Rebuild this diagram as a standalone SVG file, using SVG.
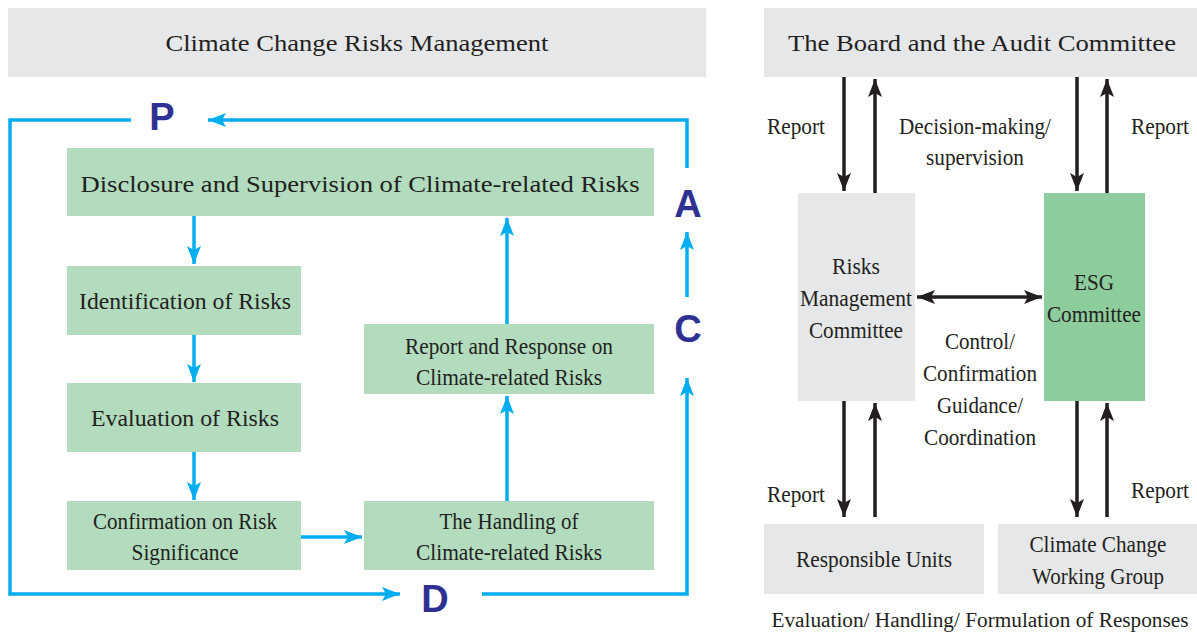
<svg xmlns="http://www.w3.org/2000/svg" width="1197" height="635" viewBox="0 0 1197 635" font-family="'Liberation Serif', 'Times New Roman', Times, serif">
<style>
text{font-family:'Liberation Serif','Times New Roman',Times,serif}
.t{fill:#231f20;text-anchor:middle;font-size:23px}
.h{font-size:24px}
.g{fill:#e6e7e8}
.gr{fill:#b2dcbd}
.esg{fill:#8dcc9c}
text.L{font-family:'Liberation Sans',Arial,Helvetica,sans-serif;font-weight:bold;fill:#2e3192;text-anchor:middle;font-size:38px}
.b{stroke:#00aeef;stroke-width:3.5;fill:none}
.k{stroke:#231f20;stroke-width:3.5;fill:none}
</style>
<defs>
<marker id="ab" markerUnits="userSpaceOnUse" markerWidth="20" markerHeight="16" viewBox="0 0 20 16" refX="18" refY="8" orient="auto"><path d="M0,1 L18,8 L0,15 L4,8 Z" fill="#00aeef"/></marker>
<marker id="ak" markerUnits="userSpaceOnUse" markerWidth="20" markerHeight="16" viewBox="0 0 20 16" refX="18" refY="8" orient="auto-start-reverse"><path d="M0,1 L18,8 L0,15 L4,8 Z" fill="#231f20"/></marker>
</defs>

<g id="header-left"><rect class="g" x="8" y="8" width="698" height="69"/><text class="t h" x="357" y="51" textLength="383" lengthAdjust="spacingAndGlyphs">Climate Change Risks Management</text></g>
<g id="header-right"><rect class="g" x="764" y="8" width="433" height="69"/><text class="t h" x="982" y="51" textLength="388" lengthAdjust="spacingAndGlyphs">The Board and the Audit Committee</text></g>

<g id="disclosure"><rect class="gr" x="67" y="148" width="587" height="68"/><text class="t" x="360" y="192" textLength="559" lengthAdjust="spacingAndGlyphs">Disclosure and Supervision of Climate-related Risks</text></g>
<g id="identification"><rect class="gr" x="67" y="266" width="234" height="69"/><text class="t" x="185" y="309" textLength="212" lengthAdjust="spacingAndGlyphs">Identification of Risks</text></g>
<g id="evaluation"><rect class="gr" x="67" y="383" width="234" height="69"/><text class="t" x="185" y="426" textLength="188" lengthAdjust="spacingAndGlyphs">Evaluation of Risks</text></g>
<g id="confirmation"><rect class="gr" x="67" y="501" width="234" height="69"/><text class="t" x="185" y="529" textLength="184" lengthAdjust="spacingAndGlyphs">Confirmation on Risk</text><text class="t" x="185" y="560" textLength="107" lengthAdjust="spacingAndGlyphs">Significance</text></g>
<g id="handling"><rect class="gr" x="364" y="501" width="290" height="69"/><text class="t" x="509" y="529" textLength="139" lengthAdjust="spacingAndGlyphs">The Handling of</text><text class="t" x="509" y="560" textLength="186" lengthAdjust="spacingAndGlyphs">Climate-related Risks</text></g>
<g id="report-response"><rect class="gr" x="364" y="324" width="290" height="70"/><text class="t" x="509" y="354" textLength="208" lengthAdjust="spacingAndGlyphs">Report and Response on</text><text class="t" x="509" y="385" textLength="186" lengthAdjust="spacingAndGlyphs">Climate-related Risks</text></g>

<g id="pdca">
<text class="L" x="162" y="130">P</text>
<text class="L" x="688" y="217">A</text>
<text class="L" x="688" y="342">C</text>
<text class="L" x="435" y="612">D</text>
</g>

<g id="rmc"><rect class="g" x="798" y="193" width="117" height="208"/><text class="t" x="856" y="274" textLength="48" lengthAdjust="spacingAndGlyphs">Risks</text><text class="t" x="856" y="306" textLength="112" lengthAdjust="spacingAndGlyphs">Management</text><text class="t" x="856" y="338" textLength="94" lengthAdjust="spacingAndGlyphs">Committee</text></g>
<g id="esg"><rect class="esg" x="1044" y="193" width="101" height="208"/><text class="t" x="1094" y="290" textLength="40" lengthAdjust="spacingAndGlyphs">ESG</text><text class="t" x="1094" y="322" textLength="94" lengthAdjust="spacingAndGlyphs">Committee</text></g>
<g id="responsible-units"><rect class="g" x="764" y="524" width="220" height="70"/><text class="t" x="874" y="567" textLength="156" lengthAdjust="spacingAndGlyphs">Responsible Units</text></g>
<g id="working-group"><rect class="g" x="998" y="524" width="199" height="70"/><text class="t" x="1098" y="552" textLength="137" lengthAdjust="spacingAndGlyphs">Climate Change</text><text class="t" x="1098" y="584" textLength="132" lengthAdjust="spacingAndGlyphs">Working Group</text></g>

<g id="labels">
<text class="t" x="796" y="134" textLength="58" lengthAdjust="spacingAndGlyphs">Report</text>
<text class="t" x="975" y="134" textLength="152" lengthAdjust="spacingAndGlyphs">Decision-making/</text>
<text class="t" x="975" y="165" textLength="98" lengthAdjust="spacingAndGlyphs">supervision</text>
<text class="t" x="1160" y="134" textLength="58" lengthAdjust="spacingAndGlyphs">Report</text>
<text class="t" x="980" y="349" textLength="70" lengthAdjust="spacingAndGlyphs">Control/</text>
<text class="t" x="980" y="381" textLength="114" lengthAdjust="spacingAndGlyphs">Confirmation</text>
<text class="t" x="980" y="413" textLength="86" lengthAdjust="spacingAndGlyphs">Guidance/</text>
<text class="t" x="980" y="445" textLength="112" lengthAdjust="spacingAndGlyphs">Coordination</text>
<text class="t" x="796" y="502" textLength="58" lengthAdjust="spacingAndGlyphs">Report</text>
<text class="t" x="1160" y="498" textLength="58" lengthAdjust="spacingAndGlyphs">Report</text>
<text class="t" x="980" y="627" textLength="417" lengthAdjust="spacingAndGlyphs" style="font-size:20px">Evaluation/ Handling/ Formulation of Responses</text>
</g>

<g id="connectors">
<path class="b" d="M131,120 H10 V594 H400" marker-end="url(#ab)"/>
<path class="b" d="M482,594 H687 V378" marker-end="url(#ab)"/>
<path class="b" d="M687,297 V232" marker-end="url(#ab)"/>
<path class="b" d="M687,168 V120 H208" marker-end="url(#ab)"/>
<path class="b" d="M194,216 V264" marker-end="url(#ab)"/>
<path class="b" d="M194,335 V382" marker-end="url(#ab)"/>
<path class="b" d="M194,452 V500" marker-end="url(#ab)"/>
<path class="b" d="M301,537 H362" marker-end="url(#ab)"/>
<path class="b" d="M507,501 V396" marker-end="url(#ab)"/>
<path class="b" d="M507,324 V218" marker-end="url(#ab)"/>

<path class="k" d="M844,77 V191" marker-end="url(#ak)"/>
<path class="k" d="M875,193 V79" marker-end="url(#ak)"/>
<path class="k" d="M1077,77 V191" marker-end="url(#ak)"/>
<path class="k" d="M1107,193 V79" marker-end="url(#ak)"/>
<path class="k" d="M844,401 V517" marker-end="url(#ak)"/>
<path class="k" d="M875,517 V403" marker-end="url(#ak)"/>
<path class="k" d="M1077,401 V517" marker-end="url(#ak)"/>
<path class="k" d="M1107,517 V403" marker-end="url(#ak)"/>
<path class="k" d="M917,297 H1042" marker-start="url(#ak)" marker-end="url(#ak)"/>
</g>
</svg>
